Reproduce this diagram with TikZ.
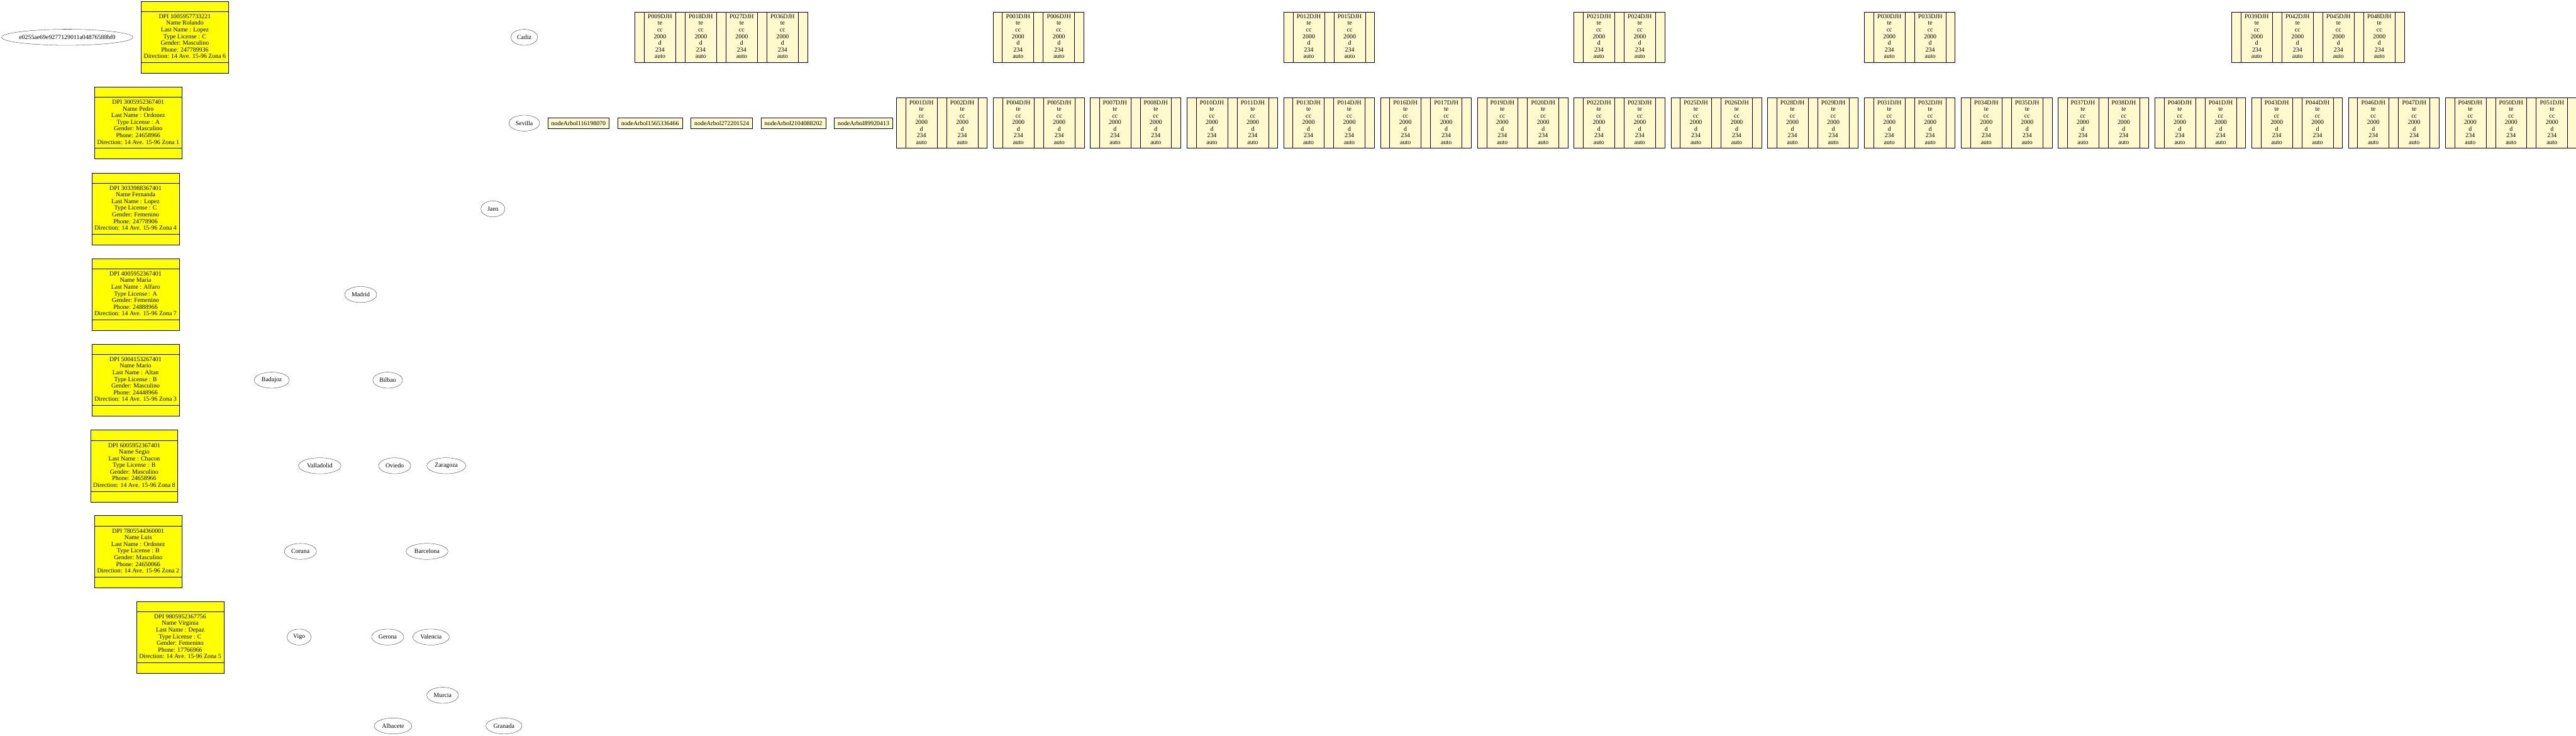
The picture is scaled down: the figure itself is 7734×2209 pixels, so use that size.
\documentclass[tikz,border=0pt]{standalone}
\usepackage{fontspec}
\setmainfont{Liberation Serif}
\usepackage{tikz}
\usetikzlibrary{positioning, shapes.geometric, shapes.multipart}

\definecolor{lemon}{RGB}{255,250,205}
\definecolor{pureyellow}{RGB}{255,255,0}

\newcommand{\ptrcell}{\makebox[20.25pt]{}}
\newcommand{\platecell}[1]{\makebox[69.75pt]{\begin{tabular}{@{}c@{}}P#1DJH\\te\\cc\\2000\\d\\234\\auto\end{tabular}}}
\newcommand{\twokeys}[2]{\ptrcell\nodepart{two}\platecell{#1}\nodepart{three}\ptrcell\nodepart{four}\platecell{#2}\nodepart{five}\ptrcell}
\newcommand{\driverinfo}[7]{\makebox[1pt]{\rule{0pt}{14.25pt}}\nodepart{two}\makebox[180pt]{\begin{tabular}{@{}c@{}}DPI #1\\Name #2\\Last Name : #3\\Type License : #4\\Gender: #5\\Phone: #6\\Direction: 14 Ave. 15-96 Zona #7\end{tabular}}\nodepart{three}\makebox[1pt]{\rule{0pt}{15pt}}}

\begin{document}
\begin{tikzpicture}[
    x=0.75pt, y=-0.75pt,
    every node/.style={font=\fontsize{14pt}{15pt}\selectfont},
    city/.style={draw, ellipse, minimum width=54pt, minimum height=36pt, inner xsep=5pt},
    driver/.style={draw, line width=1pt, fill=pureyellow, rectangle split, rectangle split parts=3,
        inner xsep=8.25pt, inner ysep=4.125pt},
    page/.style={draw, line width=1pt, fill=lemon, rectangle split, rectangle split horizontal,
        inner xsep=0pt, inner ysep=4.125pt, anchor=west},
    arbol/.style={draw, line width=1pt, fill=lemon, minimum height=23.25pt, inner xsep=8pt, inner ysep=0pt}
]
  \useasboundingbox (0,0) rectangle (7734,2209);

  \node[city, minimum width=295.5pt] (hash) at (202,112) {\makebox[0pt]{e0255ae69e9277129011a04876588bf0}};

  \node[driver] (rolando) at (555,112) {\driverinfo{1005957733221}{Rolando}{Lopez}{C}{Masculino}{247789936}{6}};
  \node[driver] (pedro) at (415,369) {\driverinfo{3005952367401}{Pedro}{Ordonez}{A}{Masculino}{24658966}{1}};
  \node[driver] (fernanda) at (407,627) {\driverinfo{3033988367401}{Fernanda}{Lopez}{C}{Femenino}{24778906}{4}};
  \node[driver] (maria) at (407,884) {\driverinfo{4005952367401}{Maria}{Alfaro}{A}{Femenino}{24888966}{7}};
  \node[driver] (mario) at (407,1141) {\driverinfo{5004153267401}{Mario}{Altan}{B}{Masculino}{24448966}{3}};
  \node[driver] (segio) at (403,1399) {\driverinfo{6005952367401}{Segio}{Chacon}{B}{Masculino}{24658966}{8}};
  \node[driver] (luis) at (415,1656) {\driverinfo{7805544360001}{Luis}{Ordonez}{B}{Masculino}{24650066}{2}};
  \node[driver] (virginia) at (541,1913) {\driverinfo{9805952367756}{Virginia}{Depaz}{C}{Femenino}{17766966}{5}};

  \node[city] (cadiz) at (1574,112) {Cadiz};
  \node[city] (sevilla) at (1574,369.5) {Sevilla};
  \node[city] (jaen) at (1480,627) {Jaen};
  \node[city] (madrid) at (1083,884) {Madrid};
  \node[city] (badajoz) at (816,1141) {Badajoz};
  \node[city] (bilbao) at (1164,1141) {Bilbao};
  \node[city] (valladolid) at (960,1398) {Valladolid};
  \node[city] (oviedo) at (1185,1398) {Oviedo};
  \node[city] (zaragoza) at (1340,1398) {Zaragoza};
  \node[city] (coruna) at (902,1655) {Coruna};
  \node[city] (barcelona) at (1282,1655) {Barcelona};
  \node[city] (vigo) at (898,1912) {Vigo};
  \node[city] (gerona) at (1164,1912) {Gerona};
  \node[city] (valencia) at (1294,1912) {Valencia};
  \node[city] (murcia) at (1329,2087) {Murcia};
  \node[city] (albacete) at (1180,2179) {Albacete};
  \node[city] (granada) at (1513,2179) {Granada};

  \node[arbol, anchor=west] (arbol1) at (1644,369.5) {nodeArbol116198070};
  \node[arbol, right=18pt of arbol1] (arbol2) {nodeArbol1565336466};
  \node[arbol, right=18pt of arbol2] (arbol3) {nodeArbol272201524};
  \node[arbol, right=18pt of arbol3] (arbol4) {nodeArbol2104088202};
  \node[arbol, right=18pt of arbol4] (arbol5) {nodeArbol89920413};

  \node[page, rectangle split parts=9] (root) at (1906,111.5) {\twokeys{009}{018}\nodepart{six}\platecell{027}\nodepart{seven}\ptrcell\nodepart{eight}\platecell{036}\nodepart{nine}\ptrcell};
  \node[page, rectangle split parts=5] (in1) at (2981,111.5) {\twokeys{003}{006}};
  \node[page, rectangle split parts=5] (in2) at (3854,111.5) {\twokeys{012}{015}};
  \node[page, rectangle split parts=5] (in3) at (4725,111.5) {\twokeys{021}{024}};
  \node[page, rectangle split parts=5] (in4) at (5597,111.5) {\twokeys{030}{033}};
  \node[page, rectangle split parts=9] (in5) at (6700,111.5) {\twokeys{039}{042}\nodepart{six}\platecell{045}\nodepart{seven}\ptrcell\nodepart{eight}\platecell{048}\nodepart{nine}\ptrcell};

  \node[page, rectangle split parts=5] (lf1) at (2691,369.5) {\twokeys{001}{002}};
  \node[page, rectangle split parts=5] (lf2) at (2982,369.5) {\twokeys{004}{005}};
  \node[page, rectangle split parts=5] (lf3) at (3272,369.5) {\twokeys{007}{008}};
  \node[page, rectangle split parts=5] (lf4) at (3563,369.5) {\twokeys{010}{011}};
  \node[page, rectangle split parts=5] (lf5) at (3853,369.5) {\twokeys{013}{014}};
  \node[page, rectangle split parts=5] (lf6) at (4144,369.5) {\twokeys{016}{017}};
  \node[page, rectangle split parts=5] (lf7) at (4435,369.5) {\twokeys{019}{020}};
  \node[page, rectangle split parts=5] (lf8) at (4725,369.5) {\twokeys{022}{023}};
  \node[page, rectangle split parts=5] (lf9) at (5016,369.5) {\twokeys{025}{026}};
  \node[page, rectangle split parts=5] (lf10) at (5306,369.5) {\twokeys{028}{029}};
  \node[page, rectangle split parts=5] (lf11) at (5597,369.5) {\twokeys{031}{032}};
  \node[page, rectangle split parts=5] (lf12) at (5888,369.5) {\twokeys{034}{035}};
  \node[page, rectangle split parts=5] (lf13) at (6178,369.5) {\twokeys{037}{038}};
  \node[page, rectangle split parts=5] (lf14) at (6469,369.5) {\twokeys{040}{041}};
  \node[page, rectangle split parts=5] (lf15) at (6760,369.5) {\twokeys{043}{044}};
  \node[page, rectangle split parts=5] (lf16) at (7050,369.5) {\twokeys{046}{047}};
  \node[page, rectangle split parts=7] (lf17) at (7341,369.5) {\twokeys{049}{050}\nodepart{six}\platecell{051}\nodepart{seven}\ptrcell};
\end{tikzpicture}
\end{document}
